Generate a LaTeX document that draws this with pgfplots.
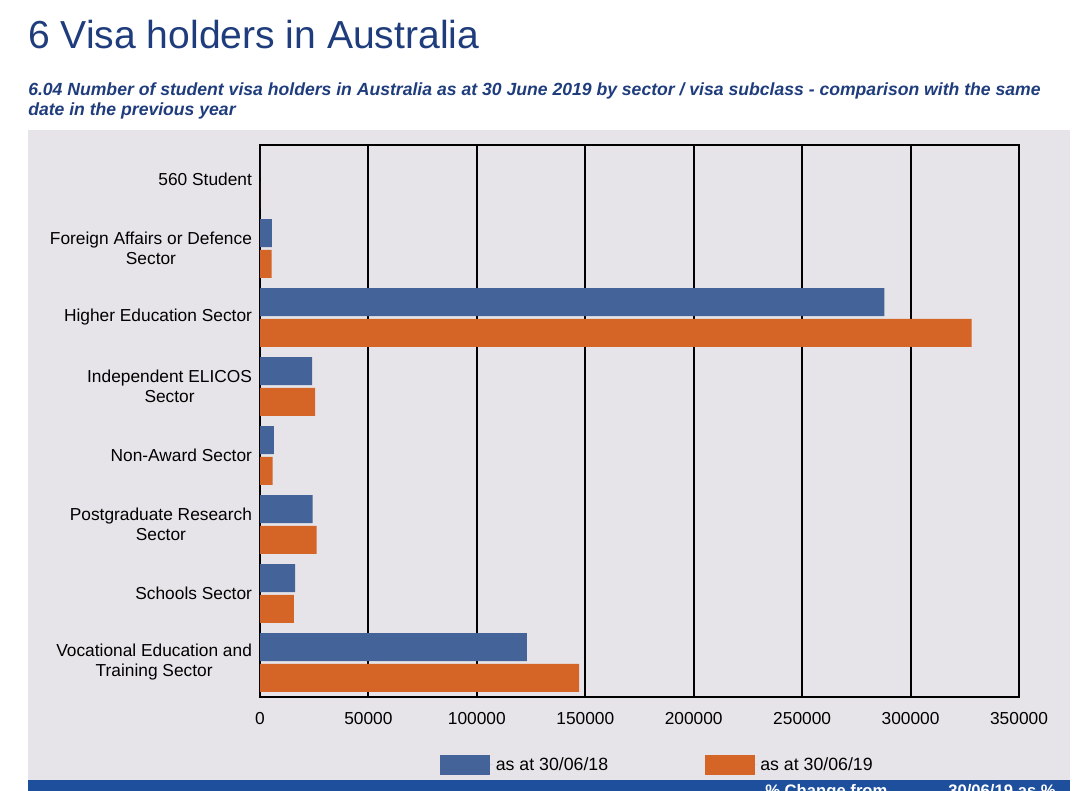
\documentclass[border=0pt]{standalone}
\usepackage{pgfplots}
\pgfplotsset{compat=1.18}
\usepackage{fontspec}
\setmainfont{Liberation Sans}
\definecolor{titleblue}{HTML}{1F3D7C}
\definecolor{panel}{HTML}{E6E4E8}
\definecolor{barblue}{HTML}{436399}
\definecolor{barorange}{HTML}{D56527}
\definecolor{band}{HTML}{1D4F9C}
\begin{document}
\begin{tikzpicture}[x=0.75pt,y=-0.75pt]
\useasboundingbox (0,0) rectangle (1080,791);
\fill[white] (0,0) rectangle (1080,791);
\fill[panel] (28,130) rectangle (1070,780);
\fill[band] (28,780) rectangle (1070,800);
\node[anchor=base west, text=titleblue, font=\fontsize{29.3pt}{34pt}\selectfont, inner sep=0] at (28,49) {6 Visa holders in Australia};
\node[anchor=base west, text=titleblue, font=\fontsize{13.2pt}{15pt}\selectfont\bfseries\itshape, inner sep=0] at (28,96) {6.04 Number of student visa holders in Australia as at 30 June 2019 by sector / visa subclass - comparison with the same};
\node[anchor=base west, text=titleblue, font=\fontsize{13.2pt}{15pt}\selectfont\bfseries\itshape, inner sep=0] at (28,116) {date in the previous year};
\node[anchor=base west, text=white, font=\fontsize{12.5pt}{15pt}\selectfont\bfseries, inner sep=0] at (765,796) {\% Change from};
\node[anchor=base west, text=white, font=\fontsize{12.5pt}{15pt}\selectfont\bfseries, inner sep=0] at (948,796) {30/06/19 as \%};
\begin{axis}[
  at={(195pt,-108.75pt)}, anchor=north west,
  scale only axis, width=569.25pt, height=414pt,
  xbar, bar width=21pt,
  xmin=0, xmax=350000, ymin=-0.5, ymax=7.5, y dir=reverse,
  ytick={0,...,7},
  yticklabels={560 Student, {Foreign Affairs or Defence\\Sector}, Higher Education Sector, {Independent ELICOS\\Sector}, Non-Award Sector, {Postgraduate Research\\Sector}, Schools Sector, {Vocational Education and\\Training Sector}},
  xtick={0,50000,100000,150000,200000,250000,300000,350000},
  scaled x ticks=false,
  /pgf/number format/assume math mode=true,
  xticklabel={\pgfmathprintnumber[1000 sep={},fixed]{\tick}},
  xticklabel style={yshift=-8pt},
  xmajorgrids,
  major grid style={black, line width=1.5pt},
  axis line style={black, line width=1.5pt},
  major tick length=0,
  tick label style={font=\fontsize{13pt}{15pt}\selectfont},
  yticklabel style={align=center, xshift=-2.5pt},
  axis background/.style={fill=panel},
  legend columns=2,
  legend style={at={(0.237,-0.123)}, anchor=west, draw=none, fill=none, inner sep=0pt,
    font=\fontsize{13.3pt}{15pt}\selectfont,
    /tikz/every even column/.append style={column sep=70.3pt}},
  legend cell align=left,
  legend image code/.code={\fill[#1] (0pt,-7.5pt) rectangle (37.5pt,7.5pt); \path (0pt,0pt) -- (39.75pt,0pt);},
]
\addplot[fill=barblue, draw=none, bar shift=11.6pt] coordinates {
(0,0) (5500,1) (287900,2) (24000,3) (6400,4) (24300,5) (16250,6) (123100,7)};
\addplot[fill=barorange, draw=none, bar shift=-11.6pt] coordinates {
(0,0) (5400,1) (328100,2) (25400,3) (5800,4) (26100,5) (15650,6) (147100,7)};
\legend{as at 30/06/18, as at 30/06/19}
\end{axis}
\end{tikzpicture}
\end{document}
